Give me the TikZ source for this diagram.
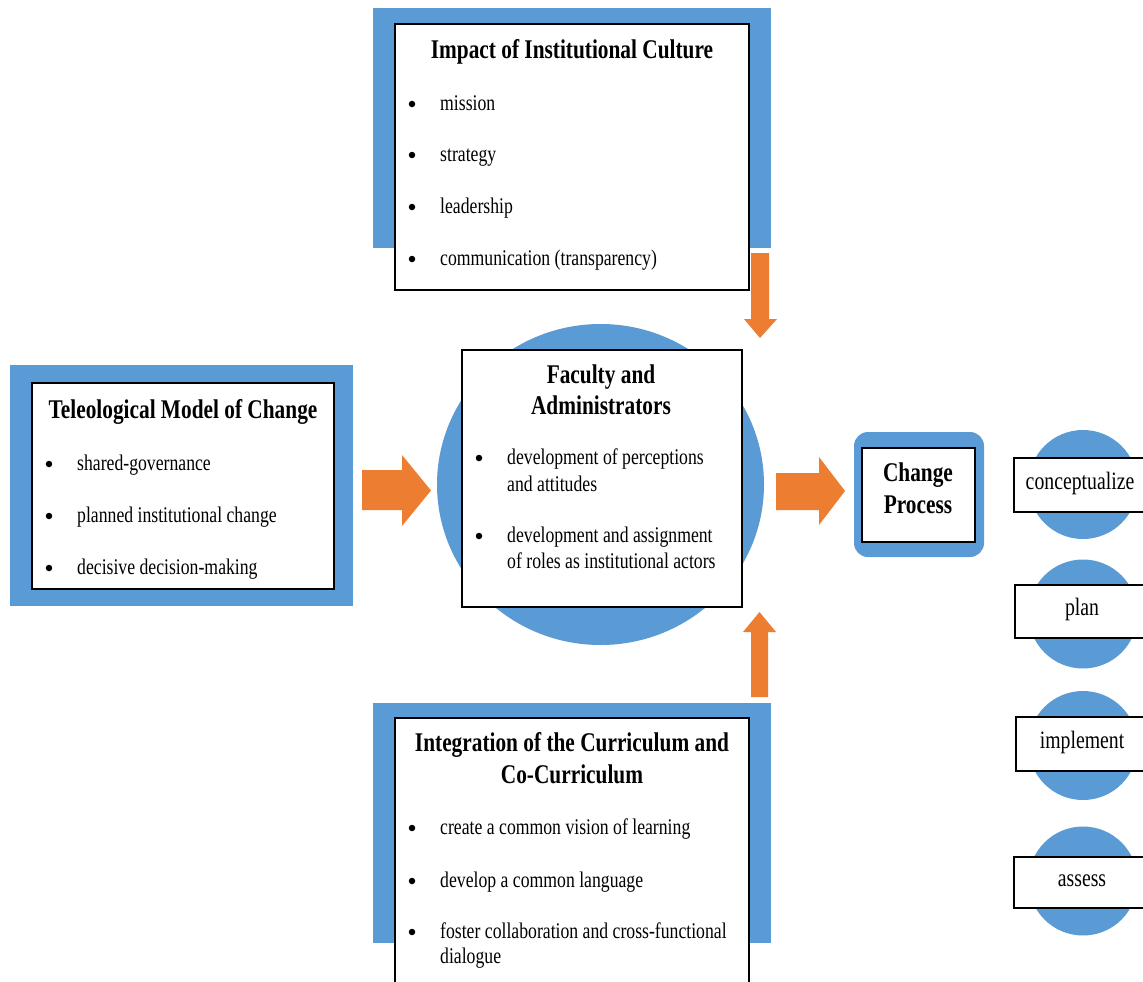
\documentclass[tikz,border=0pt]{standalone}
\usepackage{fontspec}
\setmainfont[FakeStretch=0.79]{Liberation Serif}
\definecolor{ablue}{HTML}{5B9BD5}
\definecolor{aorange}{HTML}{ED7D31}
\begin{document}
\begin{tikzpicture}[x=1pt,y=-1pt,
  bluebg/.style={fill=ablue, draw=none},
  wbox/.style={fill=white, draw=black, line width=1.2pt},
  ttl/.style={font=\fontsize{27}{31}\selectfont\bfseries, anchor=mid, inner sep=0pt, yshift=-5pt},
  itm/.style={font=\fontsize{22.4}{26}\selectfont, anchor=mid west, inner sep=0pt, yshift=-4pt},
  bul/.style={circle, fill=black, draw=none, minimum size=6.5pt, inner sep=0pt, yshift=0pt},
  lbl/.style={font=\fontsize{25}{29}\selectfont, anchor=mid, inner sep=0pt, yshift=-2pt},
  blockarrow/.style={fill=aorange, draw=none}]
\useasboundingbox (0,0) rectangle (1143,982);
\clip (0,0) rectangle (1143,982);
\fill[white] (0,0) rectangle (1143,982);

% ---------- blue backgrounds ----------
\fill[bluebg] (373,8) rectangle (771,248);
\fill[bluebg] (10,365) rectangle (353,606);
\fill[bluebg] (373,703) rectangle (771,943);
\fill[bluebg] (600.5,484.5) ellipse [x radius=163.5, y radius=160.5];
\fill[bluebg, rounded corners=14pt] (854,432) rectangle (984,557);
\foreach \cy in {484.5,614,745.5,881}{\fill[bluebg] (1083,\cy) circle [radius=54.5];}

% ---------- top box: Impact of Institutional Culture ----------
\draw[wbox] (395,24) rectangle (749,290);
\node[ttl] (ictitle) at (572,51) {Impact of Institutional Culture};
\node[bul] (icb1) at (412,104) {};
\node[itm] (ict1) at (440,104) {mission};
\node[bul] (icb2) at (412,155) {};
\node[itm] (ict2) at (440,155) {strategy};
\node[bul] (icb3) at (412,207) {};
\node[itm] (ict3) at (440,207) {leadership};
\node[bul] (icb4) at (412,259) {};
\node[itm] (ict4) at (440,259) {communication (transparency)};

% ---------- left box: Teleological Model of Change ----------
\draw[wbox] (32,383) rectangle (334,589);
\node[ttl] (tmtitle) at (183,411) {Teleological Model of Change};
\node[bul] (tmb1) at (49,464) {};
\node[itm] (tmt1) at (77,464) {shared-governance};
\node[bul] (tmb2) at (49,516) {};
\node[itm] (tmt2) at (77,516) {planned institutional change};
\node[bul] (tmb3) at (49,568) {};
\node[itm] (tmt3) at (77,568) {decisive decision-making};

% ---------- centre box: Faculty and Administrators ----------
\draw[wbox] (462,350) rectangle (742,607);
\node[ttl] (fatitle1) at (601,376) {Faculty and};
\node[ttl] (fatitle2) at (601,407) {Administrators};
\node[bul] (fab1) at (479,458) {};
\node[itm] (fat1a) at (507,458) {development of perceptions};
\node[itm] (fat1b) at (507,485) {and attitudes};
\node[bul] (fab2) at (479,536) {};
\node[itm] (fat2a) at (507,536) {development and assignment};
\node[itm] (fat2b) at (507,562) {of roles as institutional actors};

% ---------- Change Process ----------
\draw[wbox] (862,448) rectangle (975,542);
\node[ttl] (cp1) at (918,474) {Change};
\node[ttl] (cp2) at (918,506) {Process};

% ---------- bottom box: Integration ----------
\draw[wbox] (395,718) rectangle (749,995);
\node[ttl] (ictitle1) at (572,744) {Integration of the Curriculum and};
\node[ttl] (ictitle2) at (572,776) {Co-Curriculum};
\node[bul] (inb1) at (412,828) {};
\node[itm] (int1) at (440,828) {create a common vision of learning};
\node[bul] (inb2) at (412,881) {};
\node[itm] (int2) at (440,881) {develop a common language};
\node[bul] (inb3) at (412,932) {};
\node[itm] (int3a) at (440,932) {foster collaboration and cross-functional};
\node[itm] (int3b) at (440,957) {dialogue};

% ---------- process steps ----------
\draw[wbox] (1014,458) rectangle (1152,512);
\node[lbl] (s1) at (1080,485) {conceptualize};
\draw[wbox] (1015,585) rectangle (1152,638);
\node[lbl] (s2) at (1082,611) {plan};
\draw[wbox] (1016,717) rectangle (1152,771);
\node[lbl] (s3) at (1082,744) {implement};
\draw[wbox] (1014,857) rectangle (1152,908);
\node[lbl] (s4) at (1082,882) {assess};

% ---------- block arrows ----------
\fill[blockarrow] (362,470) -- (402,470) -- (402,455) -- (431,490.5) -- (402,526) -- (402,510) -- (362,510) -- cycle;
\fill[blockarrow] (776,473) -- (819,473) -- (819,457) -- (845,491) -- (819,525) -- (819,510) -- (776,510) -- cycle;
\fill[blockarrow] (751,253) -- (769,253) -- (769,319) -- (777,319) -- (760,338) -- (744,319) -- (751,319) -- cycle;
\fill[blockarrow] (751,697) -- (768,697) -- (768,632) -- (776,632) -- (759.5,612) -- (743,632) -- (751,632) -- cycle;
\end{tikzpicture}
\end{document}
